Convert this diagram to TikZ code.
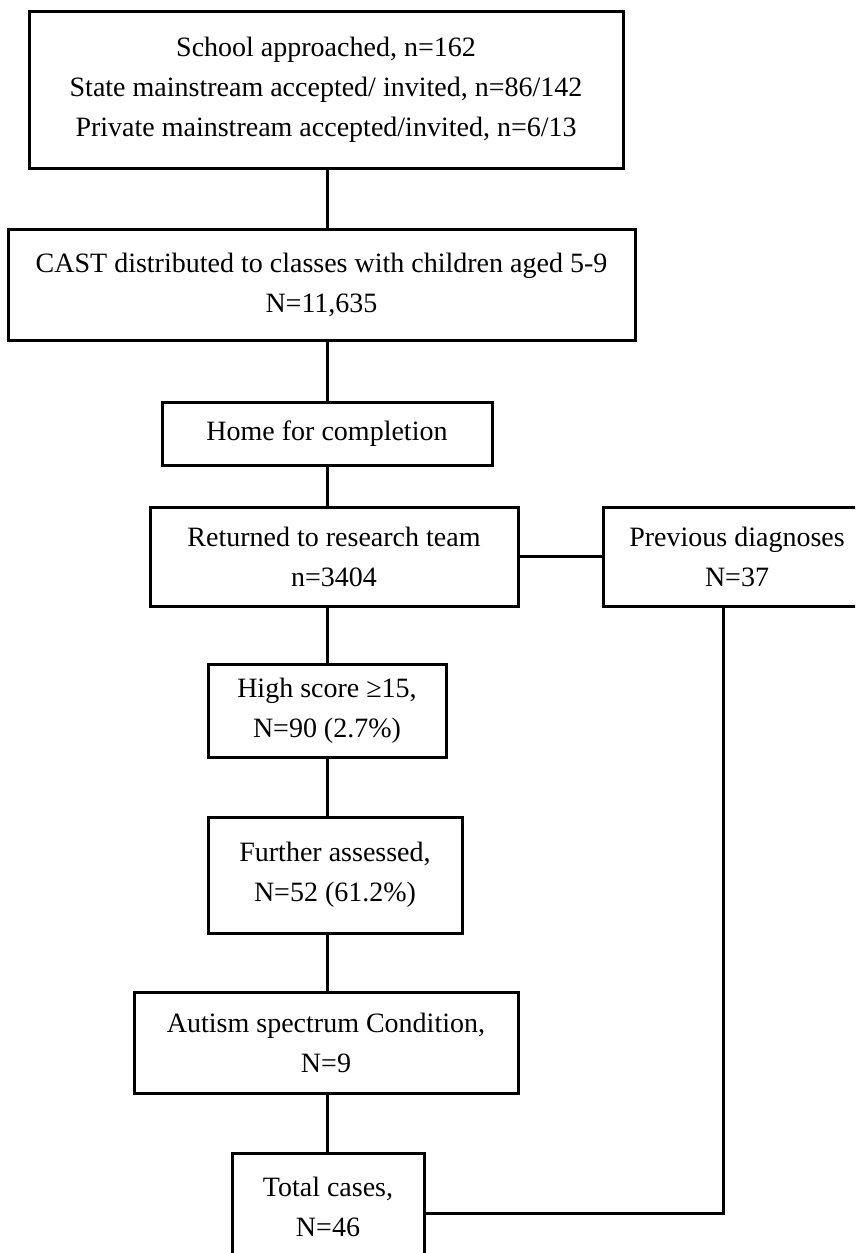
\documentclass[tikz,border=0pt]{standalone}
\usepackage{fontspec}
\setmainfont{Liberation Serif}

\begin{document}
\begin{tikzpicture}[x = 1pt, y = -1pt]
	\tikzstyle{boxStyle} = [draw, line width = 3pt, inner sep = 0pt, align = center, font = \fontsize{28}{40}\selectfont]
	\tikzstyle{linkStyle} = [line width = 3pt]
	\clip (0, 0) rectangle (855, 1253);
	\coordinate (spine) at (327, 0);
	\node[boxStyle, minimum width = 594pt, minimum height = 157pt] (school) at (326, 89.5) {School approached, n=162\\ State mainstream accepted/ invited, n=86/142\\ Private mainstream accepted/invited, n=6/13};
	\node[boxStyle, minimum width = 627pt, minimum height = 111pt] (cast) at (321.5, 284.5) {CAST distributed to classes with children aged 5-9\\ N=11,635};
	\node[boxStyle, minimum width = 330pt, minimum height = 63pt] (home) at (327, 433.5) {Home for completion};
	\node[boxStyle, minimum width = 368pt, minimum height = 99pt] (returned) at (334, 556.5) {Returned to research team\\ n=3404};
	\node[boxStyle, minimum width = 268pt, minimum height = 99pt] (previous) at (737, 556.5) {Previous diagnoses\\ N=37};
	\node[boxStyle, minimum width = 238pt, minimum height = 93pt] (high) at (327, 710.5) {High score ≥15,\\ N=90 (2.7\%)};
	\node[boxStyle, minimum width = 254pt, minimum height = 116pt] (further) at (335, 875) {Further assessed,\\ N=52 (61.2\%)};
	\node[boxStyle, minimum width = 384pt, minimum height = 101pt] (autism) at (326, 1042.5) {Autism spectrum Condition,\\ N=9};
	\node[boxStyle, minimum width = 192pt, minimum height = 108pt] (total) at (328, 1207) {Total cases,\\ N=46};
	\draw[linkStyle] (school.south -| spine) -- (cast.north -| spine);
	\draw[linkStyle] (cast.south -| spine) -- (home.north -| spine);
	\draw[linkStyle] (home.south -| spine) -- (returned.north -| spine);
	\draw[linkStyle] (returned.east) -- (previous.west);
	\draw[linkStyle] (returned.south -| spine) -- (high.north -| spine);
	\draw[linkStyle] (high.south -| spine) -- (further.north -| spine);
	\draw[linkStyle] (further.south -| spine) -- (autism.north -| spine);
	\draw[linkStyle] (autism.south -| spine) -- (total.north -| spine);
	\draw[linkStyle] ([xshift = -14pt]previous.south) |- ([yshift = -6pt]total.east);
\end{tikzpicture}
\end{document}
